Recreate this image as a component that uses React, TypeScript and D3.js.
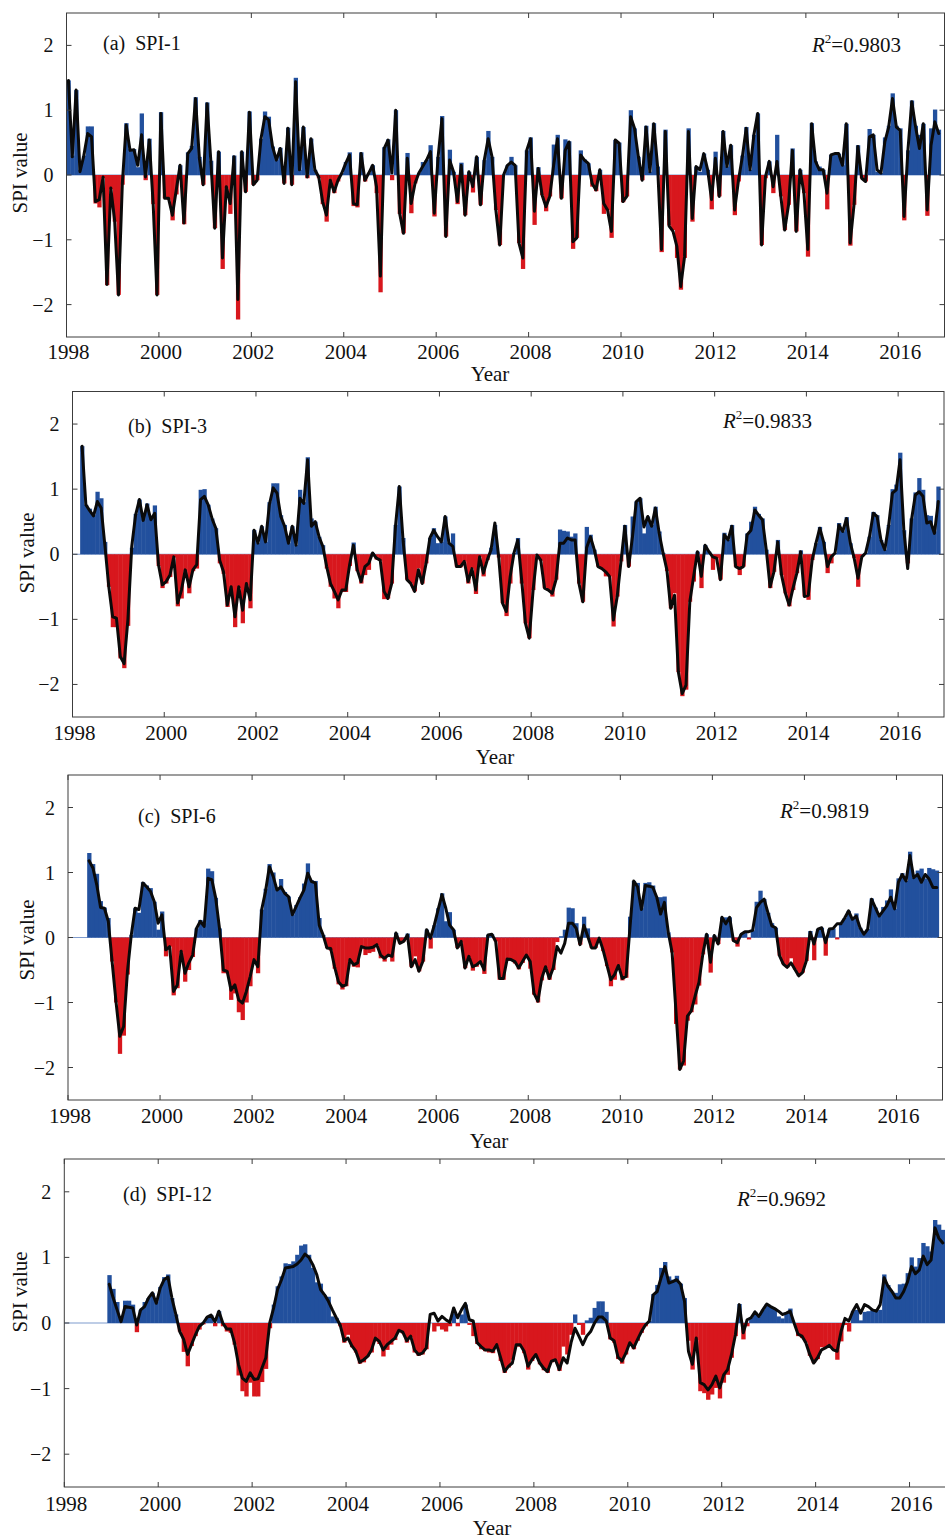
import * as d3 from 'd3';

// monthly SPI series, first month = January 1998
const START_YEAR = 1998;
const END_YEAR = 2017;
const xTicks = [1998, 2000, 2002, 2004, 2006, 2008, 2010, 2012, 2014, 2016];
const yTicks = [-2, -1, 0, 1, 2];

// SPI-1 (from Jan 1998)
const spi1Start = 0;
const spi1Bars = [
  1.46, 0.3, 1.31, 0.08, 0.3, 0.75, 0.75, -0.44, -0.5, -0.05, -1.7, -0.22,
  -0.72, -1.85, -0.15, 0.8, 0.4, 0.4, 0.12, 0.95, -0.08, 0.56, -0.45, -1.85,
  0.97, -0.36, -0.38, -0.7, -0.3, 0.15, -0.76, 0.35, 0.45, 1.2, 0.28, -0.15,
  1.12, 0.22, -0.82, 0.36, -1.45, -0.2, -0.6, 0.3, -2.23, 0.36, -0.26, 0.98,
  -0.15, -0.08, 0.56, 0.98, 0.9, 0.44, 0.23, 0.42, -0.13, 0.73, -0.15, 1.5,
  0.08, 0.74, -0.05, 0.56, 0.08, -0.05, -0.45, -0.72, -0.1, -0.28, -0.1, 0.03,
  0.2, 0.35, -0.48, -0.5, 0.35, -0.1, 0.03, 0.15, -0.28, -1.81, 0.43, 0.55,
  -0.08, 1.0, -0.6, -0.9, 0.34, -0.59, -0.13, 0.03, 0.2, 0.23, 0.46, -0.64,
  0.28, 0.91, -0.95, 0.39, 0.05, -0.45, 0.19, -0.62, 0.05, -0.27, 0.28, -0.46,
  0.23, 0.68, 0.28, -0.54, -1.08, 0, 0.15, 0.28, 0.15, -1.05, -1.45, 0.38,
  0.58, -0.77, 0.12, -0.31, -0.56, -0.33, 0.47, 0.62, -0.36, 0.55, 0.52, -1.14,
  -0.97, 0.38, 0.24, 0.18, -0.18, -0.25, 0.08, -0.6, -0.54, -0.97, 0.54, 0.5,
  -0.42, -0.33, 1.0, 0.72, 0.28, -0.08, 0.76, 0.05, 0.8, 0.13, -1.19, 0.7,
  -0.78, -0.85, -1.28, -1.77, -1.28, 0.72, -0.72, 0.13, 0.05, 0.33, 0.08, -0.53,
  0.36, -0.33, 0.68, 0.13, 0.46, -0.62, -0.1, 0.3, 0.74, 0.08, 0.62, 0.95,
  -1.08, -0.05, 0.21, -0.28, 0.62, -0.33, -0.85, -0.46, 0.41, -0.87, 0.08, -0.28,
  -1.26, 0.8, 0.21, 0.13, 0.08, -0.53, 0.31, 0.33, 0.33, 0.15, 0.79, -1.09,
  -0.46, 0.46, -0.05, -0.1, 0.71, 0.62, 0.05, 0.03, 0.58, 0.76, 1.26, 0.76,
  0.72, -0.7, 0.38, 1.15, 0.76, 0.62, 0.79, -0.63, 0.72, 1.01, 0.7,
];
const spi1Line = [
  1.46, 0.28, 1.31, 0.05, 0.3, 0.64, 0.59, -0.41, -0.38, -0.03, -1.69, -0.2,
  -0.7, -1.85, -0.13, 0.77, 0.38, 0.39, 0.15, 0.62, -0.03, 0.54, -0.44, -1.85,
  0.95, -0.36, -0.36, -0.62, -0.23, 0.15, -0.74, 0.33, 0.41, 1.18, 0.26, -0.15,
  1.1, 0.2, -0.82, 0.36, -1.28, -0.18, -0.44, 0.28, -1.92, 0.36, -0.26, 0.97,
  -0.15, -0.08, 0.56, 0.9, 0.85, 0.44, 0.23, 0.41, -0.13, 0.72, -0.15, 1.44,
  0.08, 0.74, -0.03, 0.56, 0.08, -0.03, -0.41, -0.62, -0.08, -0.26, -0.08, 0.03,
  0.18, 0.31, -0.44, -0.46, 0.33, -0.08, 0.03, 0.15, -0.18, -1.56, 0.41, 0.54,
  0.03, 1.0, -0.59, -0.9, 0.26, -0.44, -0.13, 0.03, 0.13, 0.23, 0.36, -0.59,
  0.28, 0.87, -0.95, 0.23, 0.05, -0.41, 0.15, -0.62, 0.05, -0.18, 0.28, -0.46,
  0.23, 0.56, 0.28, -0.54, -1.08, 0, 0.15, 0.2, 0.15, -1.05, -1.28, 0.38,
  0.56, -0.56, 0.1, -0.31, -0.49, -0.33, 0.15, 0.56, -0.36, 0.38, 0.51, -1.03,
  -0.97, 0.31, 0.23, 0.18, -0.13, -0.23, 0.08, -0.44, -0.54, -0.87, 0.54, 0.49,
  -0.41, -0.33, 0.9, 0.72, 0.28, -0.08, 0.74, 0.05, 0.79, 0.13, -1.15, 0.67,
  -0.79, -0.87, -1.1, -1.72, -1.26, 0.67, -0.67, 0.13, 0.08, 0.33, 0.08, -0.38,
  0.26, -0.33, 0.67, 0.13, 0.46, -0.54, -0.08, 0.28, 0.72, 0.08, 0.62, 0.95,
  -1.08, -0.03, 0.21, -0.18, 0.21, -0.33, -0.85, -0.46, 0.38, -0.87, 0.08, -0.28,
  -1.15, 0.79, 0.21, 0.08, 0.08, -0.28, 0.31, 0.33, 0.33, 0.15, 0.79, -1.05,
  -0.46, 0.44, -0.05, -0.1, 0.59, 0.62, 0.08, 0.03, 0.51, 0.74, 1.18, 0.74,
  0.69, -0.64, 0.38, 1.13, 0.74, 0.41, 0.79, -0.54, 0.46, 0.82, 0.64,
];

// SPI-3 (from Mar 1998)
const spi3Start = 2;
const spi3Bars = [
  1.66, 0.76, 0.7, 0.6, 0.96, 0.86, 0.19, -0.5, -1.12, -1.12, -1.6, -1.75,
  -1.1, 0.1, 0.62, 0.84, 0.55, 0.78, 0.55, 0.75, -0.18, -0.52, -0.45, -0.35,
  -0.05, -0.8, -0.68, -0.26, -0.6, -0.26, -0.22, 0.99, 1.0, 0.76, 0.55, 0.4,
  -0.14, -0.3, -0.81, -0.55, -1.12, -0.52, -1.06, -0.48, -0.83, 0.37, 0.17, 0.43,
  0.19, 0.8, 1.09, 1.09, 0.6, 0.45, 0.17, 0.43, 0.14, 0.99, 0.8, 1.49,
  0.55, 0.5, 0.27, 0.14, -0.22, -0.5, -0.68, -0.83, -0.58, -0.58, -0.18, 0.18,
  -0.26, -0.45, -0.32, -0.24, 0.02, -0.08, -0.1, -0.69, -0.68, -0.45, 0.45, 1.04,
  0.25, -0.39, -0.45, -0.57, -0.22, -0.45, -0.14, 0.25, 0.4, 0.17, 0.19, 0.58,
  0.17, 0.32, -0.19, -0.2, -0.11, -0.45, -0.22, -0.61, -0.04, -0.34, -0.09, 0.1,
  0.45, -0.05, -0.75, -0.95, -0.45, 0.02, 0.25, -0.45, -1.06, -1.29, -0.55, -0.01,
  -0.1, -0.52, -0.55, -0.65, -0.39, 0.38, 0.36, 0.35, 0.27, 0.32, -0.45, -0.73,
  0.42, 0.3, 0.07, -0.19, -0.22, -0.34, -0.34, -1.11, -0.65, -0.11, 0.45, -0.19,
  0.58, 0.81, 0.86, 0.32, 0.58, 0.45, 0.73, 0.35, 0.02, -0.26, -0.83, -0.6,
  -1.81, -2.18, -2.08, -0.73, -0.42, 0.04, -0.52, 0.14, 0.04, -0.24, -0.06, -0.39,
  0.33, 0.22, 0.45, -0.19, -0.32, -0.19, 0.32, 0.5, 0.73, 0.62, 0.55, 0.07,
  -0.52, -0.27, 0.22, -0.32, -0.6, -0.8, -0.55, -0.29, 0.06, -0.65, -0.7, -0.09,
  0.17, 0.42, 0.19, -0.29, -0.14, 0.02, 0.48, 0.35, 0.57, 0.17, -0.06, -0.5,
  -0.04, 0.02, 0.27, 0.65, 0.6, 0.22, 0.07, 0.45, 1.0, 1.07, 1.56, 0.37,
  -0.14, 0.55, 0.95, 1.17, 0.99, 0.6, 0.59, 0.35, 1.04,
];
const spi3Line = [
  1.66, 0.76, 0.67, 0.59, 0.81, 0.71, 0.12, -0.5, -0.96, -0.98, -1.57, -1.68,
  -1.0, 0.12, 0.6, 0.84, 0.52, 0.76, 0.53, 0.63, -0.16, -0.47, -0.42, -0.32,
  -0.04, -0.75, -0.55, -0.24, -0.5, -0.24, -0.16, 0.84, 0.89, 0.76, 0.55, 0.4,
  -0.09, -0.27, -0.78, -0.5, -0.96, -0.5, -0.86, -0.45, -0.7, 0.37, 0.17, 0.43,
  0.19, 0.76, 1.02, 0.94, 0.58, 0.43, 0.17, 0.43, 0.14, 0.86, 0.78, 1.45,
  0.43, 0.5, 0.27, 0.12, -0.19, -0.45, -0.57, -0.7, -0.55, -0.55, -0.16, 0.14,
  -0.24, -0.42, -0.19, -0.14, 0.02, -0.06, -0.09, -0.57, -0.68, -0.45, 0.43, 1.04,
  0.2, -0.39, -0.45, -0.57, -0.24, -0.45, -0.14, 0.25, 0.37, 0.27, 0.19, 0.58,
  0.17, 0.12, -0.19, -0.19, -0.11, -0.42, -0.22, -0.55, -0.04, -0.29, -0.09, 0.07,
  0.48, -0.04, -0.75, -0.88, -0.34, 0.02, 0.22, -0.39, -1.06, -1.29, -0.55, -0.01,
  -0.09, -0.52, -0.55, -0.6, -0.39, 0.17, 0.17, 0.25, 0.22, 0.22, -0.45, -0.73,
  0.1, 0.27, 0.07, -0.19, -0.22, -0.27, -0.34, -1.01, -0.65, -0.11, 0.43, -0.19,
  0.27, 0.81, 0.86, 0.42, 0.58, 0.43, 0.71, 0.32, 0.02, -0.24, -0.83, -0.63,
  -1.81, -2.14, -2.01, -0.73, -0.34, 0.04, -0.34, 0.14, 0.04, -0.04, -0.06, -0.39,
  0.3, 0.22, 0.43, -0.19, -0.22, -0.19, 0.3, 0.37, 0.68, 0.6, 0.53, 0.07,
  -0.5, -0.27, 0.19, -0.32, -0.6, -0.78, -0.52, -0.29, 0.04, -0.65, -0.63, -0.09,
  0.17, 0.4, 0.19, -0.19, -0.04, 0.02, 0.45, 0.35, 0.55, 0.17, -0.06, -0.37,
  -0.04, 0.02, 0.27, 0.63, 0.58, 0.22, 0.07, 0.43, 0.94, 0.99, 1.45, 0.37,
  -0.22, 0.53, 0.91, 0.96, 0.89, 0.48, 0.5, 0.32, 0.81,
];

// SPI-6 (from Jun 1998)
const spi6Start = 5;
const spi6Bars = [
  1.3, 1.13, 0.98, 0.56, 0.46, 0.3, -0.37, -1.0, -1.79, -1.51, -0.57, 0.04,
  0.45, 0.38, 0.85, 0.8, 0.76, 0.55, 0.12, 0.4, -0.29, -0.14, -0.89, -0.78,
  -0.23, -0.68, -0.5, -0.3, 0.14, 0.27, 0.22, 1.06, 1.02, 0.61, 0.14, -0.55,
  -0.55, -0.96, -0.86, -1.15, -1.27, -1.0, -0.75, -0.36, -0.55, 0.43, 0.75, 1.13,
  1.0, 0.75, 0.9, 0.7, 0.63, 0.35, 0.5, 0.62, 0.83, 1.14, 0.88, 0.87,
  0.3, 0.04, -0.16, -0.2, -0.48, -0.72, -0.8, -0.75, -0.36, -0.45, -0.46, -0.14,
  -0.27, -0.24, -0.22, -0.12, -0.32, -0.37, -0.3, -0.37, 0.07, -0.09, -0.06, 0.06,
  -0.45, -0.29, -0.52, -0.37, 0.12, -0.17, 0.19, 0.45, 0.68, 0.25, 0.39, 0.12,
  -0.16, -0.08, -0.47, -0.3, -0.51, -0.45, -0.4, -0.56, 0.04, 0.05, -0.06, -0.65,
  -0.65, -0.36, -0.36, -0.4, -0.49, -0.39, -0.3, -0.48, -0.88, -1.0, -0.66, -0.47,
  -0.65, -0.5, -0.07, 0.02, 0.12, 0.46, 0.45, 0.22, -0.11, 0.32, 0.14, -0.16,
  -0.16, -0.01, -0.21, -0.44, -0.75, -0.65, -0.45, -0.66, -0.62, 0.32, 0.87, 0.84,
  0.45, 0.84, 0.85, 0.8, 0.62, 0.62, 0.63, 0.08, -0.23, -1.33, -2.03, -1.97,
  -1.28, -1.15, -1.03, -0.74, -0.26, 0.05, -0.54, 0.03, -0.1, 0.31, 0.31, 0.31,
  -0.05, -0.14, 0.05, 0.09, -0.03, 0.11, 0.55, 0.72, 0.59, 0.38, 0.22, 0.15,
  -0.28, -0.41, -0.46, -0.32, -0.49, -0.59, -0.54, -0.36, 0.1, -0.35, 0.13, 0.15,
  -0.28, 0.13, 0.14, -0.03, 0.21, 0.3, 0.41, 0.3, 0.37, 0.15, 0.05, 0.13,
  0.6, 0.46, 0.33, 0.47, 0.57, 0.74, 0.44, 0.91, 0.99, 0.87, 1.32, 0.92,
  1.03, 1.06, 0.91, 1.07, 1.05, 1.03,
];
const spi6Line = [
  1.18, 1.07, 0.81, 0.46, 0.45, 0.25, -0.37, -0.98, -1.52, -1.37, -0.52, 0.04,
  0.45, 0.43, 0.84, 0.78, 0.71, 0.55, 0.22, 0.35, -0.19, -0.14, -0.83, -0.73,
  -0.21, -0.55, -0.39, -0.27, 0.14, 0.25, 0.17, 0.91, 0.89, 0.61, 0.14, -0.5,
  -0.52, -0.81, -0.73, -0.96, -1.01, -0.83, -0.6, -0.34, -0.45, 0.43, 0.71, 1.09,
  0.94, 0.73, 0.78, 0.68, 0.63, 0.35, 0.48, 0.61, 0.73, 0.99, 0.86, 0.84,
  0.19, 0.04, -0.16, -0.17, -0.45, -0.68, -0.75, -0.73, -0.34, -0.42, -0.39, -0.14,
  -0.16, -0.16, -0.15, -0.11, -0.27, -0.32, -0.27, -0.29, 0.07, -0.09, -0.06, 0.04,
  -0.45, -0.34, -0.52, -0.37, 0.12, -0.01, 0.19, 0.43, 0.66, 0.45, 0.19, 0.12,
  -0.16, -0.06, -0.47, -0.29, -0.45, -0.42, -0.37, -0.5, 0.04, 0.05, -0.06, -0.63,
  -0.63, -0.33, -0.34, -0.37, -0.47, -0.37, -0.27, -0.37, -0.86, -0.98, -0.63, -0.45,
  -0.63, -0.47, -0.14, -0.24, -0.09, 0.22, 0.22, 0.14, -0.11, 0.19, 0.02, -0.16,
  -0.16, -0.01, -0.19, -0.42, -0.65, -0.57, -0.43, -0.63, -0.6, 0.14, 0.87, 0.78,
  0.43, 0.8, 0.79, 0.77, 0.62, 0.36, 0.54, 0.08, -0.23, -1.13, -2.03, -1.9,
  -1.21, -1.13, -0.9, -0.69, -0.26, 0.05, -0.38, 0.03, -0.1, 0.31, 0.21, 0.31,
  -0.05, -0.08, 0.05, 0.09, 0.09, 0.11, 0.46, 0.54, 0.59, 0.38, 0.18, 0.15,
  -0.28, -0.41, -0.46, -0.39, -0.49, -0.59, -0.54, -0.36, 0.08, -0.1, 0.13, 0.15,
  -0.08, 0.13, 0.14, 0.21, 0.21, 0.3, 0.41, 0.28, 0.33, 0.15, 0.05, 0.13,
  0.59, 0.46, 0.33, 0.41, 0.49, 0.62, 0.44, 0.85, 0.97, 0.87, 1.26, 0.92,
  0.97, 0.85, 0.97, 0.9, 0.77, 0.77,
];

// SPI-12 (from Dec 1998)
const spi12Start = 11;
const spi12Bars = [
  0.73, 0.52, 0.32, 0.1, 0.34, 0.34, 0.28, -0.14, 0.2, 0.32, 0.38, 0.46,
  0.32, 0.55, 0.7, 0.74, 0.38, 0.13, -0.13, -0.44, -0.66, -0.35, -0.2, -0.1,
  -0.02, 0.09, 0.12, -0.05, 0.18, -0.05, -0.13, -0.15, -0.33, -0.8, -1.04, -1.12,
  -0.91, -1.12, -1.12, -0.9, -0.7, -0.08, 0.28, 0.56, 0.71, 0.91, 0.9, 0.94,
  1.04, 1.18, 1.2, 1.04, 0.84, 0.62, 0.6, 0.42, 0.4, 0.1, 0.08, -0.05,
  -0.3, -0.18, -0.37, -0.45, -0.62, -0.6, -0.51, -0.45, -0.28, -0.32, -0.51, -0.41,
  -0.33, -0.26, -0.14, -0.16, -0.3, -0.22, -0.45, -0.5, -0.48, -0.4, 0.0, -0.13,
  -0.05, -0.1, -0.13, -0.05, 0.15, -0.05, 0.13, 0.28, -0.03, -0.2, -0.32, -0.4,
  -0.43, -0.45, -0.46, -0.36, -0.58, -0.76, -0.68, -0.56, -0.36, -0.36, -0.46, -0.71,
  -0.58, -0.5, -0.63, -0.72, -0.76, -0.6, -0.58, -0.73, -0.36, -0.48, -0.18, 0.13,
  -0.03, -0.18, 0.04, 0.08, 0.23, 0.33, 0.33, 0.17, -0.25, -0.3, -0.55, -0.62,
  -0.48, -0.33, -0.4, -0.27, -0.15, -0.05, 0.03, 0.44, 0.58, 0.84, 0.93, 0.71,
  0.66, 0.72, 0.6, 0.38, -0.27, -0.71, -0.26, -1.04, -1.07, -1.17, -1.09, -0.99,
  -1.15, -0.91, -0.79, -0.53, -0.2, 0.29, -0.25, -0.05, 0.08, 0.17, 0.1, 0.2,
  0.29, 0.25, 0.22, 0.1, 0.07, 0.15, 0.22, 0, -0.2, -0.23, -0.3, -0.5,
  -0.61, -0.55, -0.37, -0.38, -0.33, -0.41, -0.56, -0.28, -0.03, -0.13, 0.18, 0.2,
  0.04, 0.17, 0.18, 0.2, 0.18, 0.2, 0.74, 0.58, 0.48, 0.46, 0.59, 0.6,
  0.76, 1.0, 0.86, 0.99, 1.22, 1.17, 1.09, 1.57, 1.5, 1.42,
];
const spi12Line = [
  0.59, 0.38, 0.2, 0.02, 0.25, 0.24, 0.23, -0.03, 0.2, 0.25, 0.38, 0.46,
  0.3, 0.53, 0.66, 0.7, 0.38, 0.13, -0.13, -0.25, -0.48, -0.33, -0.18, -0.05,
  0, 0.09, 0.12, 0.02, 0.18, 0, -0.09, -0.09, -0.3, -0.63, -0.84, -0.89,
  -0.76, -0.86, -0.85, -0.69, -0.53, 0, 0.23, 0.51, 0.66, 0.84, 0.85, 0.86,
  0.9, 0.96, 1.05, 1.0, 0.89, 0.74, 0.51, 0.43, 0.33, 0.2, 0.08, -0.03,
  -0.27, -0.23, -0.35, -0.43, -0.6, -0.56, -0.51, -0.41, -0.23, -0.28, -0.41, -0.33,
  -0.28, -0.23, -0.11, -0.14, -0.27, -0.2, -0.41, -0.48, -0.46, -0.38, 0.13, 0.15,
  0.03, 0.1, 0.05, 0.01, 0.23, 0.08, 0.2, 0.3, 0.05, 0.03, -0.3, -0.36,
  -0.41, -0.41, -0.43, -0.33, -0.53, -0.74, -0.66, -0.61, -0.33, -0.33, -0.43, -0.66,
  -0.56, -0.48, -0.61, -0.69, -0.74, -0.58, -0.56, -0.71, -0.53, -0.61, -0.3, -0.08,
  -0.2, -0.33, -0.2, -0.13, 0, 0.09, 0.09, 0.03, -0.23, -0.27, -0.52, -0.58,
  -0.46, -0.3, -0.38, -0.25, -0.13, -0.03, 0.03, 0.43, 0.48, 0.69, 0.86, 0.61,
  0.63, 0.66, 0.59, 0.33, -0.43, -0.63, -0.23, -0.91, -0.94, -1.02, -0.94, -0.81,
  -0.99, -0.79, -0.71, -0.48, -0.18, 0.28, -0.15, 0.05, 0.08, 0.17, 0.1, 0.2,
  0.29, 0.25, 0.22, 0.18, 0.13, 0.15, 0.18, 0, -0.17, -0.2, -0.3, -0.48,
  -0.61, -0.53, -0.41, -0.38, -0.34, -0.41, -0.43, -0.13, 0.07, 0.03, 0.18, 0.28,
  0.15, 0.28, 0.25, 0.2, 0.18, 0.28, 0.69, 0.56, 0.48, 0.38, 0.38, 0.48,
  0.63, 0.86, 0.75, 0.81, 1.02, 0.89, 0.96, 1.45, 1.29, 1.22,
];

const BLUE = '#22509d';
const RED = '#d8171d';
const FONT = "'Liberation Serif', 'Times New Roman', serif";
const W = 945;
const H = 1539;

const panels = [
  {
    key: 'a', title: '(a)  SPI-1', r2: '0.9803', start: spi1Start, bars: spi1Bars, line: spi1Line,
    left: 66.5, right: 944.5, top: 13, bottom: 337,
    titleX: 103, titleY: 50, r2X: 812, r2Y: 52, ylabX: 20, ylabY: 173, tickDy: 22, yearX: 490, yearDy: 44,
  },
  {
    key: 'b', title: '(b)  SPI-3', r2: '0.9833', start: spi3Start, bars: spi3Bars, line: spi3Line,
    left: 72.5, right: 944, top: 391.5, bottom: 717,
    titleX: 128, titleY: 433, r2X: 723, r2Y: 428, ylabX: 27, ylabY: 553, tickDy: 23, yearX: 495, yearDy: 47,
  },
  {
    key: 'c', title: '(c)  SPI-6', r2: '0.9819', start: spi6Start, bars: spi6Bars, line: spi6Line,
    left: 68, right: 942.5, top: 775, bottom: 1100,
    titleX: 138, titleY: 823, r2X: 780, r2Y: 818, ylabX: 27, ylabY: 940, tickDy: 23, yearX: 489, yearDy: 48,
  },
  {
    key: 'd', title: '(d)  SPI-12', r2: '0.9692', start: spi12Start, bars: spi12Bars, line: spi12Line,
    left: 64.3, right: 956.5, top: 1159, bottom: 1487,
    titleX: 123, titleY: 1201, r2X: 737, r2Y: 1206, ylabX: 20, ylabY: 1292, tickDy: 24, yearX: 492, yearDy: 48,
  },
];

type PanelDef = (typeof panels)[number];

function Panel({ p }: { p: PanelDef }) {
  const x = d3.scaleLinear().domain([START_YEAR, END_YEAR]).range([p.left, p.right]);
  const y = d3.scaleLinear().domain([-2.5, 2.5]).range([p.bottom, p.top]);
  const t = (m: number) => START_YEAR + m / 12;
  const mw = x(t(1)) - x(t(0));
  const y0 = y(0);
  const visRight = Math.min(p.right, W);

  const linePath = d3
    .line<number>()
    .x((_, k) => x(t(p.start + k + 0.5)))
    .y((d) => y(d))(p.line);

  const tick = 5;
  const fmt = (v: number) => (v < 0 ? '\u2212' + Math.abs(v) : String(v));

  return (
    <g>
      <defs>
        <clipPath id={`clip-${p.key}`}>
          <rect x={p.left} y={p.top} width={visRight - p.left} height={p.bottom - p.top} />
        </clipPath>
      </defs>

      <g clipPath={`url(#clip-${p.key})`}>
        <line x1={p.left} x2={visRight} y1={y0} y2={y0} stroke="#7f9bcd" strokeWidth={1.2} />
        {p.bars.map((v, k) => {
          const x0 = x(t(p.start + k));
          return (
            <rect
              key={k}
              x={x0}
              width={mw + 0.45}
              y={Math.min(y(v), y0)}
              height={Math.abs(y(v) - y0)}
              fill={v >= 0 ? BLUE : RED}
            />
          );
        })}
        <path d={linePath ?? ''} fill="none" stroke="#0a0a0a" strokeWidth={3} strokeLinejoin="round" strokeLinecap="round" />
      </g>

      {/* frame */}
      <rect x={p.left} y={p.top} width={p.right - p.left} height={p.bottom - p.top} fill="none" stroke="#3c3c3c" strokeWidth={1} />

      {/* x ticks */}
      {xTicks.map((yr) => (
        <g key={yr}>
          <line x1={x(yr)} x2={x(yr)} y1={p.bottom} y2={p.bottom - tick} stroke="#3c3c3c" />
          <line x1={x(yr)} x2={x(yr)} y1={p.top} y2={p.top + tick} stroke="#3c3c3c" />
          <text x={x(yr) + 2} y={p.bottom + p.tickDy} textAnchor="middle" fontSize={21} fontFamily={FONT} fill="#111">
            {yr}
          </text>
        </g>
      ))}

      {/* y ticks */}
      {yTicks.map((v) => (
        <g key={v}>
          <line x1={p.left} x2={p.left + tick} y1={y(v)} y2={y(v)} stroke="#3c3c3c" />
          <line x1={p.right} x2={p.right - tick} y1={y(v)} y2={y(v)} stroke="#3c3c3c" />
          <text x={p.left - 13} y={y(v)} dy="0.35em" textAnchor="end" fontSize={20} fontFamily={FONT} fill="#111">
            {fmt(v)}
          </text>
        </g>
      ))}

      <text x={p.yearX} y={p.bottom + p.yearDy} textAnchor="middle" fontSize={21} fontFamily={FONT} fill="#111">
        Year
      </text>
      <text
        transform={`translate(${p.ylabX},${p.ylabY}) rotate(-90)`}
        dy="0.35em"
        textAnchor="middle"
        fontSize={21}
        fontFamily={FONT}
        fill="#111"
      >
        SPI value
      </text>

      <text x={p.titleX} y={p.titleY} fontSize={20} fontFamily={FONT} fill="#111" style={{ whiteSpace: 'pre' }}>
        {p.title}
      </text>
      <text x={p.r2X} y={p.r2Y} fontSize={21} fontFamily={FONT} fill="#111">
        <tspan fontStyle="italic">R</tspan>
        <tspan fontSize={13} dy={-9}>2</tspan>
        <tspan dy={9}>=0.{p.r2.slice(2)}</tspan>
      </text>
    </g>
  );
}

export default function App() {
  return (
    <svg
      width={W}
      height={H}
      viewBox={`0 0 ${W} ${H}`}
      style={{ position: 'absolute', left: 0, top: 0, background: '#fff', display: 'block' }}
    >
      {panels.map((p) => (
        <Panel key={p.key} p={p} />
      ))}
    </svg>
  );
}
